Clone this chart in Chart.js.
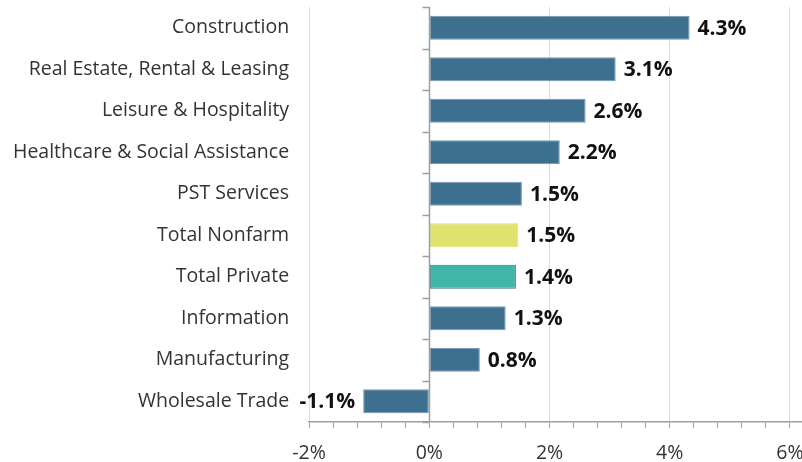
<!DOCTYPE html>
<html>
<head>
<meta charset="utf-8">
<script src="https://cdn.jsdelivr.net/npm/chart.js@4"></script>
<style>
  html, body { margin: 0; padding: 0; background: #fff; }
  #wrap { width: 802px; height: 462px; position: relative; }
</style>
</head>
<body>
<div id="wrap"><canvas id="c"></canvas></div>
<script>
const categories = ["Construction", "Real Estate, Rental & Leasing", "Leisure & Hospitality",
  "Healthcare & Social Assistance", "PST Services", "Total Nonfarm", "Total Private",
  "Information", "Manufacturing", "Wholesale Trade"];
const growthValues = [4.33, 3.1, 2.6, 2.17, 1.54, 1.48, 1.44, 1.27, 0.84, -1.1];
const barColors = ["#3d6f8f", "#3d6f8f", "#3d6f8f", "#3d6f8f", "#3d6f8f", "#dfe26c", "#40b6ab", "#3d6f8f", "#3d6f8f", "#3d6f8f"];
const barBorders = ["#6f97b1", "#6f97b1", "#6f97b1", "#6f97b1", "#6f97b1", "#dfe26c", "#3a7090", "#6f97b1", "#6f97b1", "#6f97b1"];
const xMin = -2, xMax = 6.2, xStep = 0.4;
const xMajorTicks = [-2, 0, 2, 4, 6];

const FONT = "'Open Sans', sans-serif";

const zeroAxisPlugin = {
  id: 'zeroAxis',
  afterDatasetsDraw(chart) {
    const { ctx, chartArea, scales } = chart;
    const x0 = Math.round(scales.x.getPixelForValue(0)) + 0.5;
    ctx.save();
    ctx.strokeStyle = '#a0a0a0';
    ctx.lineWidth = 1.5;
    ctx.beginPath();
    ctx.moveTo(x0, chartArea.top);
    ctx.lineTo(x0, chartArea.bottom);
    const n = categories.length;
    const h = (chartArea.bottom - chartArea.top) / n;
    for (let i = 0; i <= n; i++) {
      const y = Math.round(chartArea.top + i * h) + 0.5;
      ctx.moveTo(x0 - 7, y);
      ctx.lineTo(x0, y);
    }
    ctx.stroke();
    ctx.restore();
  }
};

const valueLabelPlugin = {
  id: 'valueLabels',
  afterDatasetsDraw(chart) {
    const { ctx } = chart;
    const meta = chart.getDatasetMeta(0);
    ctx.save();
    ctx.font = "bold 21px " + FONT;
    ctx.fillStyle = '#111';
    ctx.textBaseline = 'middle';
    meta.data.forEach((bar, i) => {
      const v = growthValues[i];
      const txt = v.toFixed(1) + '%';
      if (v >= 0) {
        ctx.textAlign = 'left';
        ctx.fillText(txt, bar.x + 8, bar.y + 1);
      } else {
        ctx.textAlign = 'right';
        ctx.fillText(txt, bar.x - 8, bar.y + 1);
      }
    });
    ctx.restore();
  }
};

new Chart(document.getElementById('c'), {
  type: 'bar',
  data: {
    labels: categories,
    datasets: [{
      data: growthValues,
      backgroundColor: barColors,
      borderColor: barBorders,
      borderWidth: 1,
      borderSkipped: false,
      barPercentage: 0.58,
      categoryPercentage: 1.0
    }]
  },
  options: {
    indexAxis: 'y',
    responsive: true,
    maintainAspectRatio: false,
    animation: false,
    layout: { padding: { top: 7, left: 13, right: 0, bottom: 0 } },
    plugins: { legend: { display: false }, tooltip: { enabled: false } },
    scales: {
      x: {
        min: xMin,
        max: xMax,
        afterBuildTicks(scale) {
          const t = [];
          for (let v = xMin; v <= 6.0001; v += xStep) t.push({ value: Math.round(v * 10) / 10 });
          scale.ticks = t;
        },
        afterFit(scale) {
          scale.paddingRight = 0;
          scale.paddingLeft = 0;
          scale.height = 40;
        },
        ticks: {
          stepSize: xStep,
          autoSkip: false,
          maxRotation: 0,
          padding: 14,
          color: '#333',
          font: { family: FONT, size: 19.5 },
          callback(v) {
            const r = Math.round(v * 10) / 10;
            return xMajorTicks.includes(r) ? r + '%' : '';
          }
        },
        grid: {
          drawOnChartArea: true,
          tickLength: 6,
          tickColor: '#a0a0a0',
          color(ctx) {
            const v = ctx.tick ? Math.round(ctx.tick.value * 10) / 10 : null;
            return xMajorTicks.includes(v) ? '#dcdcdc' : 'rgba(0,0,0,0)';
          },
          lineWidth: 1
        },
        border: { display: true, color: '#a0a0a0', width: 1.5 }
      },
      y: {
        afterFit(scale) {
          scale.paddingTop = 0;
          scale.paddingBottom = 0;
        },
        ticks: {
          color: '#333',
          padding: 0,
          font: { family: FONT, size: 19.5 }
        },
        grid: { display: false, drawTicks: true, tickLength: 20 },
        border: { display: false }
      }
    }
  },
  plugins: [zeroAxisPlugin, valueLabelPlugin]
});
</script>
</body>
</html>
